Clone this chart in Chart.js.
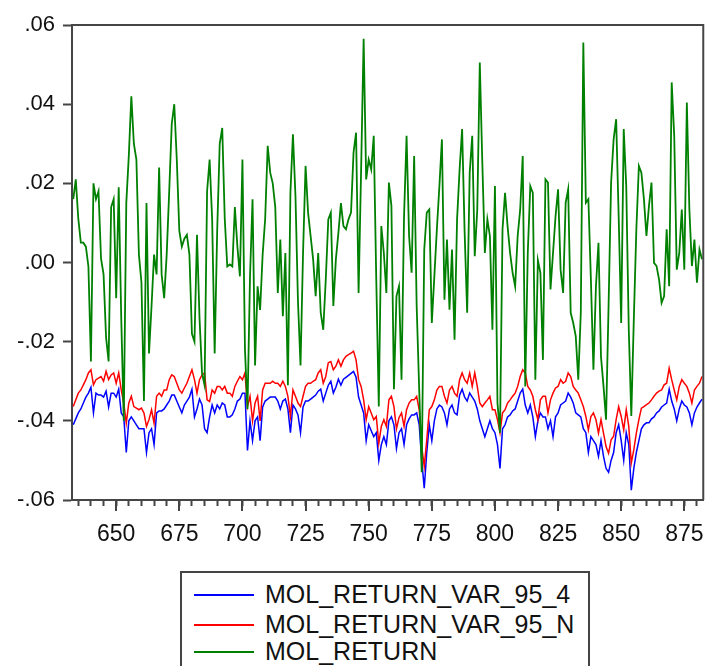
<!DOCTYPE html>
<html>
<head>
<meta charset="utf-8">
<script src="https://cdn.jsdelivr.net/npm/chart.js@4.4.1/dist/chart.umd.min.js"></script>
<style>
  body { margin: 0; background: #fff; }
  #wrap { position: relative; width: 712px; height: 666px; }
  #legend {
    position: absolute; left: 180px; top: 571px; width: 410px; height: 110px;
    border: 2px solid #444; box-sizing: border-box; background: #fff;
    font-family: "Liberation Sans", Arial, sans-serif; font-size: 25px; color: #111;
  }
  #legend div { position: absolute; left: 12px; height: 29px; line-height: 29px; white-space: nowrap; }
  #legend span { display: inline-block; width: 60px; height: 2px; vertical-align: middle; margin-right: 11px; position: relative; top: -1px; }
</style>
</head>
<body>
<div id="wrap">
  <canvas id="graph1" width="712" height="666"></canvas>
  <div id="legend">
    <div style="top:7px"><span style="background:#0000ff"></span>MOL_RETURN_VAR_95_4</div>
    <div style="top:37px"><span style="background:#ff0000"></span>MOL_RETURN_VAR_95_N</div>
    <div style="top:64px"><span style="background:#008000"></span>MOL_RETURN</div>
  </div>
</div>
<script>
var firstObs = 633;
var lastObs = 882;
var xLabels = [650, 675, 700, 725, 750, 775, 800, 825, 850, 875];
var yTicks = [-0.06, -0.04, -0.02, 0, 0.02, 0.04, 0.06];

var molReturn = [
  0.016,0.021,0.011,0.005,0.005,0.004,-0.001,-0.025,0.020,0.016,
  0.018,0.001,-0.003,-0.019,-0.025,0.014,0.016,-0.009,0.019,-0.014,
  -0.040,0.015,0.027,0.042,0.030,0.026,0.002,-0.005,-0.035,0.015,
  -0.023,-0.011,0.002,-0.003,0.024,-0.003,-0.009,0.002,0.018,0.035,
  0.040,0.026,0.008,0.004,0.006,0.007,0.002,-0.018,-0.020,0.007,
  -0.014,-0.028,-0.031,0.018,0.026,0.011,-0.023,0.008,0.030,0.034,
  0.011,-0.001,
  -0.0005,-0.001,0.014,0.004,-0.0035,0.026,-0.022,-0.037,-0.0035,0.016,
  -0.026,-0.006,-0.012,0.002,0.011,0.0295,0.0227,0.020,0.014,-0.0077,
  0.0058,-0.0136,0.0024,-0.031,0.0176,0.0324,0.0168,-0.010,-0.026,0.0024,
  0.0244,0.0126,0.0067,0.0008,-0.0085,0.0024,-0.0127,-0.017,-0.0043,0.0109,
  0.0126,-0.011,0.0008,0.0075,0.015,0.0092,0.0084,0.0109,0.0126,0.0278,
  0.0328,-0.0077,0.0235,0.0565,0.021,0.026,0.0235,0.032,-0.0043,-0.0364,
  0.0092,0.0024,-0.0077,
  0.0202,0.0143,-0.032,-0.0085,-0.006,-0.0296,0.0117,0.032,0.0067,-0.0026,
  0.0269,-0.011,-0.032,-0.053,0.0033,0.0126,0.0134,-0.0153,-0.0035,0.0084,
  0.0193,0.0311,-0.0094,0.0058,-0.0119,0.0033,-0.0195,0.0109,0.0235,0.0337,
  0.0075,-0.0127,0.0227,0.032,0.0016,0.0134,0.0505,0.0252,0.0024,0.0109,
  0.0067,-0.017,0.0193,-0.0355,-0.043,0.0084,0.0176,0.0092,0.0024,-0.0026,
  -0.006,0.0067,0.0134,0.0269,-0.0313,0.0024,0.0193,0.0176,-0.0296,0.0006,
  -0.0026,-0.0246,0.021,
  0.0202,-0.0068,0.0024,0.0117,0.0185,-0.0018,-0.0077,0.0151,0.0185,-0.0127,
  -0.0153,-0.0186,-0.0296,-0.0127,0.0556,0.0151,0.016,-0.0043,-0.0271,-0.006,
  0.005,-0.0238,-0.0313,-0.0397,-0.011,0.0202,0.0311,0.0362,0.0117,-0.0153,
  0.0337,0.0193,-0.0169,-0.0388,-0.0143,0.0084,0.0244,0.0227,0.016,0.0067,
  0.0143,0.0202,-0.0001,-0.0009,-0.0043,-0.0102,-0.0085,0.0084,-0.006,0.0455,
  0.032,-0.0018,0.0024,0.0134,-0.0018,0.0404,0.0134,-0.0009,0.0058,-0.0051,
  0.0033,0.0008
];

var varN = [
  -0.0364,-0.0347,-0.033,-0.0322,-0.0309,-0.0296,-0.0279,-0.0271,-0.0309,-0.0296,
  -0.0292,-0.0288,-0.03,-0.0275,-0.0296,-0.0284,-0.0279,-0.0305,-0.0279,-0.0322,
  -0.0355,-0.0406,-0.0355,-0.0338,-0.0364,-0.0368,-0.0372,-0.0368,-0.038,-0.0414,
  -0.0397,-0.0372,-0.0406,-0.0338,-0.033,-0.0338,-0.0322,-0.0322,-0.0296,-0.0284,
  -0.0288,-0.0305,-0.0322,-0.033,-0.0317,-0.0305,-0.0288,-0.0271,-0.0296,-0.033,
  -0.0296,-0.0284,-0.0279,-0.0347,-0.0351,-0.0322,-0.033,-0.0313,-0.0313,-0.0322,
  -0.0313,-0.033,
  -0.033,-0.0338,-0.0313,-0.03,-0.0288,-0.0296,-0.0279,-0.0364,-0.0338,-0.04,
  -0.0355,-0.0338,-0.04,-0.0322,-0.0305,-0.0305,-0.0305,-0.03,-0.0305,-0.0305,
  -0.0313,-0.03,-0.0313,-0.0338,-0.0389,-0.0322,-0.0338,-0.0355,-0.0364,-0.0338,
  -0.0313,-0.0305,-0.0305,-0.03,-0.0296,-0.0279,-0.0271,-0.0305,-0.0288,-0.0253,
  -0.025,-0.0271,-0.0262,-0.0246,-0.0262,-0.0246,-0.0237,-0.0233,-0.0229,-0.0224,
  -0.0246,-0.0296,-0.0313,-0.0347,-0.0397,-0.0364,-0.038,-0.0397,-0.0389,-0.0457,
  -0.0414,-0.0397,-0.0414,
  -0.0347,-0.0338,-0.0364,-0.042,-0.0392,-0.038,-0.0414,-0.0372,-0.0355,-0.0347,
  -0.0347,-0.0338,-0.0372,-0.0465,-0.0515,-0.0448,-0.0372,-0.0364,-0.0347,-0.0322,
  -0.0313,-0.0313,-0.0338,-0.0355,-0.0322,-0.0313,-0.033,-0.0338,-0.0296,-0.0279,
  -0.0296,-0.0305,-0.0279,-0.0313,-0.0279,-0.0313,-0.0355,-0.0364,-0.0355,-0.0347,
  -0.0338,-0.0372,-0.0372,-0.0397,-0.043,-0.038,-0.0372,-0.0355,-0.0347,-0.0338,
  -0.033,-0.0313,-0.0288,-0.0271,-0.0279,-0.0313,-0.0322,-0.0338,-0.0372,-0.0397,
  -0.0347,-0.0338,-0.0338,
  -0.038,-0.0347,-0.033,-0.0317,-0.0313,-0.0296,-0.0305,-0.03,-0.0279,-0.0288,
  -0.0313,-0.0322,-0.033,-0.0347,-0.0364,-0.0389,-0.0423,-0.0389,-0.038,-0.0397,
  -0.0431,-0.0397,-0.0431,-0.0465,-0.0482,-0.0448,-0.0439,-0.0397,-0.0364,-0.0389,
  -0.0423,-0.0372,-0.0414,-0.0507,-0.0473,-0.0431,-0.0397,-0.0368,-0.0364,-0.0359,
  -0.0355,-0.0347,-0.0338,-0.033,-0.0325,-0.0322,-0.0309,-0.0305,-0.0267,-0.0296,
  -0.0322,-0.0347,-0.0313,-0.0296,-0.0305,-0.0313,-0.033,-0.0355,-0.0322,-0.0313,
  -0.0305,-0.0288
];

var var4 = [
  -0.041,-0.0395,-0.038,-0.037,-0.0355,-0.034,-0.033,-0.0315,-0.038,-0.033,
  -0.0335,-0.0335,-0.034,-0.0325,-0.0365,-0.033,-0.033,-0.034,-0.032,-0.038,
  -0.039,-0.048,-0.04,-0.039,-0.04,-0.041,-0.042,-0.042,-0.042,-0.048,
  -0.043,-0.042,-0.046,-0.038,-0.0375,-0.0375,-0.037,-0.036,-0.035,-0.0335,
  -0.0335,-0.035,-0.0365,-0.038,-0.036,-0.035,-0.034,-0.032,-0.039,-0.037,
  -0.0345,-0.036,-0.042,-0.043,-0.039,-0.036,-0.038,-0.036,-0.037,-0.0355,
  -0.036,-0.039,
  -0.039,-0.0385,-0.037,-0.035,-0.0345,-0.033,-0.033,-0.0475,-0.04,-0.045,
  -0.04,-0.039,-0.045,-0.0365,-0.035,-0.0345,-0.034,-0.034,-0.034,-0.035,
  -0.037,-0.035,-0.0345,-0.037,-0.043,-0.036,-0.037,-0.0385,-0.043,-0.0365,
  -0.035,-0.035,-0.0345,-0.034,-0.0335,-0.0325,-0.032,-0.035,-0.033,-0.031,
  -0.03,-0.033,-0.0315,-0.0295,-0.031,-0.0295,-0.029,-0.0285,-0.028,-0.0275,
  -0.029,-0.034,-0.036,-0.038,-0.045,-0.041,-0.0425,-0.044,-0.043,-0.05,
  -0.046,-0.044,-0.046,
  -0.04,-0.039,-0.041,-0.047,-0.043,-0.042,-0.046,-0.041,-0.0395,-0.0385,
  -0.0385,-0.038,-0.041,-0.05,-0.057,-0.048,-0.041,-0.045,-0.04,-0.037,
  -0.036,-0.0365,-0.038,-0.041,-0.037,-0.036,-0.038,-0.0385,-0.0335,-0.032,
  -0.034,-0.035,-0.033,-0.034,-0.035,-0.037,-0.04,-0.042,-0.044,-0.042,
  -0.04,-0.042,-0.043,-0.046,-0.052,-0.042,-0.041,-0.039,-0.0385,-0.0375,
  -0.037,-0.035,-0.033,-0.032,-0.036,-0.038,-0.036,-0.039,-0.044,-0.04,
  -0.038,-0.039,-0.039,
  -0.042,-0.04,-0.044,-0.039,-0.038,-0.036,-0.0355,-0.035,-0.033,-0.034,
  -0.0355,-0.038,-0.0385,-0.039,-0.042,-0.043,-0.048,-0.044,-0.045,-0.046,
  -0.049,-0.045,-0.049,-0.052,-0.053,-0.05,-0.048,-0.043,-0.041,-0.045,
  -0.05,-0.043,-0.046,-0.0575,-0.052,-0.048,-0.045,-0.042,-0.041,-0.0405,
  -0.0405,-0.0395,-0.039,-0.038,-0.0375,-0.0365,-0.036,-0.0355,-0.032,-0.035,
  -0.037,-0.04,-0.037,-0.035,-0.036,-0.0365,-0.038,-0.041,-0.038,-0.0365,
  -0.0355,-0.0345
];

// observation numbers on the x axis
var obs = [];
for (var i = firstObs; i <= lastObs; i++) obs.push(i);

// minor x tick every 5 observations
var xTickValues = [];
for (var t = 635; t <= 880; t += 5) xTickValues.push(t);

var axisColor = "#454545";
var tickFont = { family: "'Liberation Sans', Arial, sans-serif", size: 22 };

// longer marks at the labelled ticks + box on top/right
var framePlugin = {
  id: "frame",
  afterDraw: function (chart) {
    var ctx = chart.ctx, a = chart.chartArea, xs = chart.scales.x;
    ctx.save();
    ctx.strokeStyle = axisColor;
    ctx.lineWidth = 2;
    ctx.beginPath();
    ctx.moveTo(a.left, a.top);
    ctx.lineTo(a.right, a.top);
    ctx.lineTo(a.right, a.bottom);
    xLabels.forEach(function (v) {
      var px = Math.round(xs.getPixelForValue(v));
      ctx.moveTo(px, a.bottom);
      ctx.lineTo(px, a.bottom + 11);
    });
    ctx.stroke();
    ctx.restore();
  }
};

var graph1 = new Chart("graph1", {
  type: "line",
  data: {
    labels: obs,
    datasets: [{
      label: "MOL_RETURN_VAR_95_4",
      borderColor: "#0000ff",
      backgroundColor: "#0000ff",
      borderWidth: 1.5,
      order: 2,
      data: var4
    }, {
      label: "MOL_RETURN_VAR_95_N",
      borderColor: "#ff0000",
      backgroundColor: "#ff0000",
      borderWidth: 1.5,
      order: 1,
      data: varN
    }, {
      label: "MOL_RETURN",
      borderColor: "#008000",
      backgroundColor: "#008000",
      borderWidth: 1.8,
      order: 0,
      data: molReturn
    }]
  },
  options: {
    responsive: false,
    animation: false,
    layout: { padding: { top: 25, right: 5, left: 0, bottom: 0 } },
    elements: { point: { radius: 0 }, line: { tension: 0 } },
    plugins: { legend: { display: false }, tooltip: { enabled: false } },
    scales: {
      x: {
        type: "linear",
        min: 632.5,
        max: 882.5,
        afterFit: function (s) { s.height = 166; },
        afterBuildTicks: function (s) {
          s.ticks = xTickValues.map(function (v) { return { value: v }; });
        },
        border: { color: axisColor, width: 2 },
        grid: { drawOnChartArea: false, tickLength: 6, tickColor: axisColor, tickWidth: 2 },
        ticks: {
          autoSkip: false,
          maxRotation: 0,
          padding: 15,
          color: "#111",
          font: { family: "'Liberation Sans', Arial, sans-serif", size: 23 },
          callback: function (v) { return xLabels.indexOf(v) >= 0 ? String(v) : ""; }
        }
      },
      y: {
        min: -0.06,
        max: 0.06,
        afterFit: function (s) { s.width = 72; },
        afterBuildTicks: function (s) {
          s.ticks = yTicks.map(function (v) { return { value: v }; });
        },
        border: { color: axisColor, width: 2 },
        grid: { drawOnChartArea: false, tickLength: 9, tickColor: axisColor, tickWidth: 2 },
        ticks: {
          padding: 8,
          color: "#111",
          font: tickFont,
          callback: function (v) {
            var r = Math.round(v * 100);
            return (r < 0 ? "-" : "") + (Math.abs(r) / 100).toFixed(2).replace(/^0/, "");
          }
        }
      }
    }
  },
  plugins: [framePlugin]
});
</script>
</body>
</html>
